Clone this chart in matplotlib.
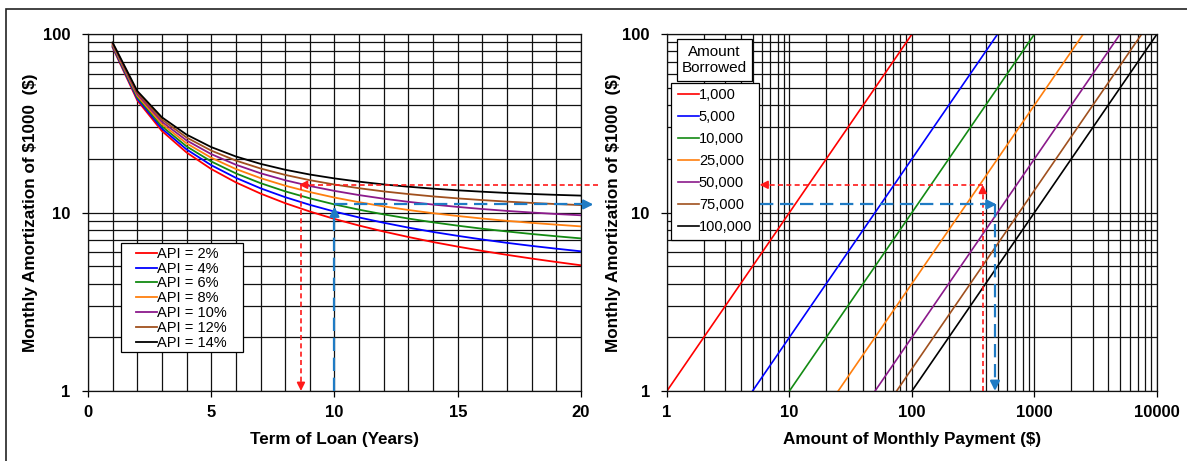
import numpy as np
import matplotlib
matplotlib.use('Agg')
import matplotlib.pyplot as plt
from matplotlib.patches import Rectangle
from matplotlib.ticker import FixedLocator, NullFormatter

plt.rcParams['font.family'] = ['Liberation Sans', 'DejaVu Sans']

# ---- left panel data: monthly amortization of $1000 vs term ----
years = list(range(1, 21))
api_labels = ['API = 2%', 'API = 4%', 'API = 6%', 'API = 8%', 'API = 10%', 'API = 12%', 'API = 14%']
amort_2 = [84.24, 42.54, 28.64, 21.70, 17.53, 14.75, 12.77, 11.28, 10.13, 9.20,
           8.45, 7.82, 7.29, 6.83, 6.44, 6.09, 5.79, 5.52, 5.28, 5.06]
amort_4 = [85.15, 43.43, 29.52, 22.58, 18.42, 15.65, 13.67, 12.19, 11.04, 10.12,
           9.38, 8.76, 8.23, 7.78, 7.40, 7.06, 6.76, 6.50, 6.27, 6.06]
amort_6 = [86.07, 44.32, 30.42, 23.48, 19.33, 16.57, 14.61, 13.14, 12.01, 11.10,
           10.37, 9.76, 9.25, 8.81, 8.44, 8.11, 7.83, 7.58, 7.36, 7.16]
amort_8 = [86.99, 45.23, 31.34, 24.41, 20.28, 17.53, 15.59, 14.14, 13.02, 12.13,
           11.42, 10.82, 10.33, 9.91, 9.56, 9.25, 8.98, 8.75, 8.55, 8.36]
amort_10 = [87.91, 46.14, 32.27, 25.36, 21.25, 18.53, 16.60, 15.17, 14.08, 13.22,
            12.52, 11.95, 11.48, 11.08, 10.75, 10.46, 10.21, 10.00, 9.81, 9.65]
amort_12 = [88.85, 47.07, 33.21, 26.33, 22.24, 19.55, 17.65, 16.25, 15.18, 14.35,
            13.68, 13.13, 12.69, 12.31, 12.00, 11.74, 11.51, 11.32, 11.15, 11.01]
amort_14 = [89.79, 48.01, 34.18, 27.33, 23.27, 20.61, 18.74, 17.37, 16.33, 15.53,
            14.89, 14.37, 13.95, 13.61, 13.32, 13.08, 12.87, 12.70, 12.56, 12.44]
amort_series = [amort_2, amort_4, amort_6, amort_8, amort_10, amort_12, amort_14]

# ---- right panel data: payment vs amortization for amount borrowed ----
amount_labels = ['1,000', '5,000', '10,000', '25,000', '50,000', '75,000', '100,000']
amort_ends = [1, 100]
payment_at_1 = [1, 5, 10, 25, 50, 75, 100]
payment_at_100 = [100, 500, 1000, 2500, 5000, 7500, 10000]

colors = ['#ff0000', '#0000ff', '#138a13', '#ff7f0e', '#8b1a8b', '#a0501e', '#000000']

# worked example (dashed guides)
red_term, red_amort, red_pay = 8.64, 14.3, 378
blue_term, blue_amort, blue_pay = 10.0, 11.1, 476
red_c = '#ff1a1a'
blue_c = '#1f7bc4'

fig = plt.figure(figsize=(11.87, 4.61), dpi=100)
fig.patches.append(Rectangle((6 / 1187, -0.05), 1.1, 1 - 9 / 461 + 0.05,
                             transform=fig.transFigure, fill=False,
                             ec='#222222', lw=1.2))

ax1 = fig.add_axes([0.0741, 0.152, 0.4154, 0.774])
ax2 = fig.add_axes([0.5619, 0.152, 0.4128, 0.774])

grid_kw = dict(color='#111111', lw=0.9)
ylog_minor = [v * d for d in (1, 10) for v in range(2, 10)]
label_fs = 12.3
tick_fs = 12


def style_axes(ax):
    ax.set_yscale('log')
    ax.set_ylim(1, 100)
    ax.yaxis.set_major_locator(FixedLocator([1, 10, 100]))
    ax.yaxis.set_minor_locator(FixedLocator(ylog_minor))
    ax.yaxis.set_minor_formatter(NullFormatter())
    ax.set_yticklabels(['1', '10', '100'], fontweight='bold', fontsize=tick_fs)
    ax.grid(True, which='both', **grid_kw)
    ax.set_axisbelow(True)
    ax.tick_params(which='major', direction='out', length=4.5, width=0.9)
    ax.tick_params(axis='x', which='major', pad=5.8)
    ax.tick_params(axis='y', which='major', pad=7.9)
    ax.tick_params(which='minor', length=0)
    for s in ax.spines.values():
        s.set_color('#111111')
        s.set_linewidth(0.9)
    ax.set_ylabel(r'Monthly Amortization of \$1000  (\$)', fontweight='bold', fontsize=label_fs)


def legend_box(ax, x0, y0, x1, y1):
    ax.add_patch(Rectangle((x0, y0), x1 - x0, y1 - y0, transform=ax.transAxes,
                           fc='white', ec='black', lw=0.9, zorder=9, clip_on=False))


# left panel
for vals, lab, c in zip(amort_series, api_labels, colors):
    ax1.plot(years, vals, color=c, lw=1.3, label=lab)
ax1.set_xlim(0, 20)
ax1.xaxis.set_major_locator(FixedLocator([0, 5, 10, 15, 20]))
ax1.xaxis.set_minor_locator(FixedLocator(list(range(1, 21))))
ax1.set_xticklabels(['0', '5', '10', '15', '20'], fontweight='bold', fontsize=tick_fs)
style_axes(ax1)
ax1.set_xlabel('Term of Loan (Years)', fontweight='bold', fontsize=label_fs)
ax1.xaxis.set_label_coords(0.5, -0.116)
ax1.yaxis.set_label_coords(-0.101, 0.5)
legend_box(ax1, 0.0669, 0.1092, 0.3144, 0.4146)
leg1 = ax1.legend(loc='center', bbox_to_anchor=(0.1897, 0.2594), frameon=False,
                  fontsize=10.5, handlelength=1.4, handletextpad=0.0, labelspacing=0.06,
                  borderpad=0.0)
leg1.set_zorder(10)

# right panel
for lo, hi, lab, c in zip(payment_at_1, payment_at_100, amount_labels, colors):
    ax2.plot([lo, hi], amort_ends, color=c, lw=1.2, label=lab)
ax2.set_xscale('log')
ax2.set_xlim(1, 10000)
ax2.xaxis.set_major_locator(FixedLocator([1, 10, 100, 1000, 10000]))
ax2.xaxis.set_minor_locator(FixedLocator([v * d for d in (1, 10, 100, 1000) for v in range(2, 10)]))
ax2.xaxis.set_minor_formatter(NullFormatter())
ax2.set_xticklabels(['1', '10', '100', '1000', '10000'], fontweight='bold', fontsize=tick_fs)
style_axes(ax2)
ax2.set_xlabel(r'Amount of Monthly Payment (\$)', fontweight='bold', fontsize=label_fs)
ax2.xaxis.set_label_coords(0.5, -0.116)
ax2.yaxis.set_label_coords(-0.094, 0.5)
legend_box(ax2, 0.0082, 0.423, 0.1878, 0.8627)
leg2 = ax2.legend(loc='center', bbox_to_anchor=(0.0986, 0.6448), frameon=False,
                  fontsize=10.5, handlelength=1.4, handletextpad=0.0, labelspacing=0.55,
                  borderpad=0.0)
leg2.set_zorder(10)
legend_box(ax2, 0.0204, 0.868, 0.1735, 0.986)
ax2.text(0.097, 0.927, 'Amount\nBorrowed', transform=ax2.transAxes, ha='center', va='center',
         fontsize=11, linespacing=1.15, zorder=11)


def arrow(ax, start, tip, color, lw, ms):
    ax.annotate('', xy=tip, xytext=start,
                arrowprops=dict(arrowstyle='-|>', color=color, lw=lw,
                                mutation_scale=ms, shrinkA=0, shrinkB=0),
                annotation_clip=False, zorder=5)


red_ls = (0, (3, 2))
blue_ls = (0, (6, 3))

# left panel guides
ax1.plot([20.7, red_term + 0.3], [red_amort, red_amort], color=red_c, lw=1.2, ls=red_ls, clip_on=False, zorder=5)
arrow(ax1, (red_term + 0.3, red_amort), (red_term - 0.08, red_amort), red_c, 1.2, 12)
ax1.plot([red_term, red_term], [red_amort, 1.12], color=red_c, lw=1.2, ls=red_ls, zorder=5)
arrow(ax1, (red_term, 1.12), (red_term, 1.0), red_c, 1.2, 12)

ax1.plot([blue_term, blue_term], [1.0, 9.8], color=blue_c, lw=1.6, ls=blue_ls, zorder=5, clip_on=False)
arrow(ax1, (blue_term, 9.8), (blue_term, 10.8), blue_c, 1.6, 14)
ax1.plot([blue_term, 20.1], [blue_amort, blue_amort], color=blue_c, lw=1.6, ls=blue_ls, clip_on=False, zorder=5)
arrow(ax1, (20.1, blue_amort), (20.5, blue_amort), blue_c, 1.6, 14)

# right panel guides
ax2.plot([red_pay, red_pay], [1.0, 12.8], color=red_c, lw=1.2, ls=red_ls, zorder=5)
arrow(ax2, (red_pay, 12.8), (red_pay, red_amort), red_c, 1.2, 12)
ax2.plot([red_pay, 6.6], [red_amort, red_amort], color=red_c, lw=1.2, ls=red_ls, zorder=5)
arrow(ax2, (6.6, red_amort), (5.7, red_amort), red_c, 1.2, 12)

ax2.plot([5.7, blue_pay - 40], [blue_amort, blue_amort], color=blue_c, lw=1.6, ls=blue_ls, zorder=5)
arrow(ax2, (blue_pay - 40, blue_amort), (blue_pay + 15, blue_amort), blue_c, 1.6, 14)
ax2.plot([blue_pay, blue_pay], [blue_amort, 1.13], color=blue_c, lw=1.6, ls=blue_ls, zorder=5)
arrow(ax2, (blue_pay, 1.13), (blue_pay, 1.0), blue_c, 1.6, 14)

fig.savefig('out.png', dpi=100)
